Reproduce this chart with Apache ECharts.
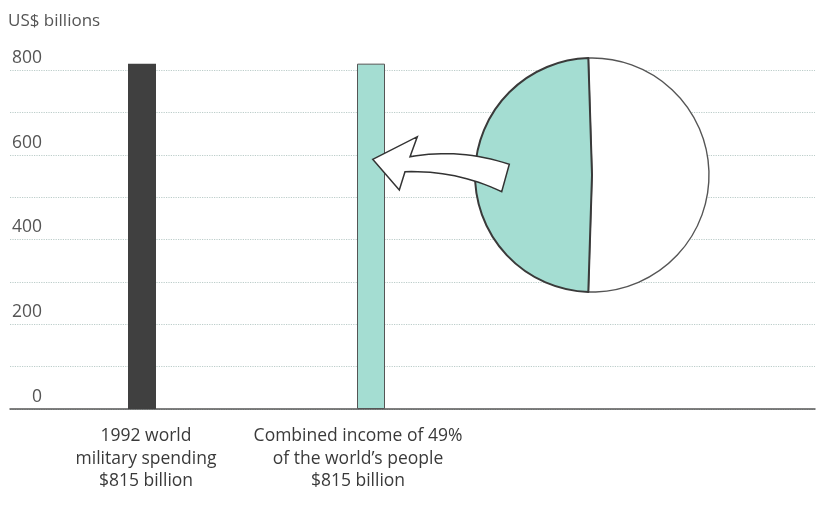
<!DOCTYPE html>
<html>
<head>
<meta charset="utf-8">
<script src="https://cdn.jsdelivr.net/npm/echarts@6/dist/echarts.min.js"></script>
<style>
  html, body { margin: 0; padding: 0; background: #fff; }
  #chart { width: 831px; height: 513px; }
</style>
</head>
<body>
<div id="chart"></div>
<script>
// data
var categories = [
  "1992 world\nmilitary spending\n$815 billion",
  "Combined income of 49%\nof the world\u2019s people\n$815 billion"
];
var spending = [815, 815];
var barColors = ["#404040", "#a4ddd2"];
var yTickLabels = [0, 200, 400, 600, 800];
var shareNames = ["Other 51%", "Poorest 49%"];
var shareValues = [51, 49];

var font = "Open Sans";

// sample a quadratic curve into points (for the block arrow outline)
function quad(p0, c, p1, n) {
  var pts = [];
  for (var i = 1; i <= n; i++) {
    var t = i / n, u = 1 - t;
    pts.push([
      u * u * p0[0] + 2 * u * t * c[0] + t * t * p1[0],
      u * u * p0[1] + 2 * u * t * c[1] + t * t * p1[1]
    ]);
  }
  return pts;
}

var arrowPts = [[372.7, 159.3], [417.3, 136.7], [410, 156.7]]
  .concat(quad([410, 156.7], [460, 148], [509.3, 164.3], 16))
  .concat([[501.7, 191.7]])
  .concat(quad([501.7, 191.7], [456, 170], [405, 171.7], 16))
  .concat([[399.3, 190]]);

var chart = echarts.init(document.getElementById("chart"));

chart.setOption({
  animation: false,
  textStyle: { fontFamily: font },
  graphic: [
    {
      type: "text",
      x: 8,
      y: 13,
      style: { text: "US$ billions", fill: "#555", fontSize: 17, fontFamily: font }
    },
    {
      type: "polygon",
      z: 100,
      shape: { points: arrowPts },
      style: { fill: "#fff", stroke: "#333", lineWidth: 1.5 }
    }
  ],
  grid: [
    { left: 10, right: 16, top: 70, bottom: 104 },
    { left: 27.5, width: 458, top: 70, bottom: 104 }
  ],
  xAxis: [
    {
      gridIndex: 0,
      type: "value",
      min: 0,
      max: 1,
      axisLine: { show: true, lineStyle: { color: "#555", width: 1.5 } },
      axisTick: { show: false },
      axisLabel: { show: false },
      splitLine: { show: false }
    },
    {
      gridIndex: 1,
      type: "category",
      data: [
        { value: categories[0], textStyle: { padding: [0, 0, 0, 8] } },
        { value: categories[1], textStyle: { padding: [0, 26, 0, 0] } }
      ],
      axisLine: { show: false },
      axisTick: { show: false },
      axisLabel: {
        interval: 0,
        margin: 16,
        color: "#3a3a3a",
        fontSize: 17.5,
        lineHeight: 22.5,
        fontFamily: font
      }
    }
  ],
  yAxis: [
    {
      gridIndex: 0,
      type: "value",
      min: 0,
      max: 800,
      interval: 100,
      axisLine: { show: false },
      axisTick: { show: false },
      splitLine: {
        show: true,
        lineStyle: { color: "#bccdca", type: "dotted", width: 1.2 }
      },
      axisLabel: {
        inside: true,
        align: "right",
        verticalAlign: "bottom",
        margin: 32,
        lineHeight: 20,
        padding: [0, 0, 2, 0],
        color: "#555",
        fontSize: 17.5,
        fontFamily: font,
        formatter: function (v) {
          return yTickLabels.indexOf(v) >= 0 ? String(v) : "";
        }
      }
    },
    {
      gridIndex: 1,
      type: "value",
      min: 0,
      max: 800,
      interval: 100,
      show: false,
      splitLine: { show: false }
    }
  ],
  series: [
    {
      type: "bar",
      xAxisIndex: 1,
      yAxisIndex: 1,
      clip: false,
      barWidth: 28,
      data: spending.map(function (v, i) {
        return {
          value: v,
          itemStyle: {
            color: barColors[i],
            borderColor: i === 1 ? "#555" : barColors[i],
            borderWidth: i === 1 ? 1 : 0
          }
        };
      })
    },
    {
      type: "pie",
      center: [592, 175],
      radius: 117,
      startAngle: 91.8,
      silent: true,
      label: { show: false },
      labelLine: { show: false },
      emphasis: { disabled: true },
      data: [
        {
          name: shareNames[0],
          value: shareValues[0],
          itemStyle: { color: "#fff", borderColor: "#555", borderWidth: 1.4 }
        },
        {
          name: shareNames[1],
          value: shareValues[1],
          itemStyle: { color: barColors[1], borderColor: "#3a3a3a", borderWidth: 2 }
        }
      ]
    }
  ]
});
</script>
</body>
</html>
